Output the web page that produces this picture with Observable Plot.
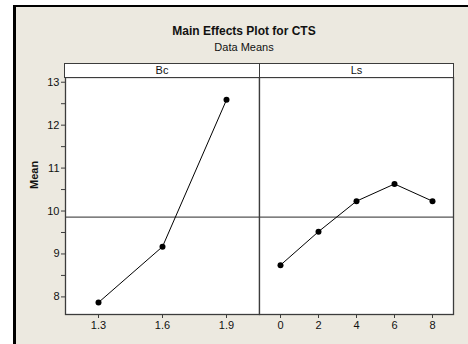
<!DOCTYPE html>
<html><head><meta charset="utf-8">
<script src="https://cdn.jsdelivr.net/npm/d3@7"></script>
<script src="https://cdn.jsdelivr.net/npm/@observablehq/plot@0.6"></script>
<style>
body{margin:0;background:#fff;}
#wrap{position:relative;width:468px;height:344px;overflow:hidden;font-family:Tahoma,"Liberation Sans",Arial,sans-serif;color:#111;}
#frame{position:absolute;left:13px;top:5px;width:480px;height:360px;border-left:3px solid #000;border-top:2px solid #000;background:#ECE9E0;}
.t{position:absolute;left:0;width:488px;text-align:center;white-space:nowrap;}
#title{top:24px;font-weight:bold;font-size:12px;}
#sub{top:41px;font-size:11px;}
.strip{position:absolute;top:63px;height:15px;box-sizing:border-box;border:1.3px solid #3c3c3c;background:#fff;font-size:11px;text-align:center;line-height:12px;}
.p{position:absolute;top:60px;}
svg{overflow:visible;}
</style></head>
<body>
<div id="wrap">
  <div id="frame"></div>
  <div id="title" class="t">Main Effects Plot for CTS</div>
  <div id="sub" class="t">Data Means</div>
  <div id="plotL" class="p" style="left:0px"></div>
  <div id="plotR" class="p" style="left:259px"></div>
  <div class="strip" id="stripL" style="left:64px;width:196px"></div>
  <div class="strip" id="stripR" style="left:259px;width:195px"></div>
</div>
<script>
const factors = ["Bc", "Ls"];
const bcLevels = ["1.3", "1.6", "1.9"];
const bcMeans = [7.87, 9.17, 12.59];
const lsLevels = ["0", "2", "4", "6", "8"];
const lsMeans = [8.74, 9.52, 10.23, 10.63, 10.23];
const grandMean = 9.86;
const yDomain = [7.59, 13.11];
const yMajorTicks = [8, 9, 10, 11, 12, 13];
const yMinorTicks = [8.5, 9.5, 10.5, 11.5, 12.5];
const yLabel = "Mean";

document.getElementById("stripL").textContent = factors[0];
document.getElementById("stripR").textContent = factors[1];

const font = 'Tahoma,"Liberation Sans",Arial,sans-serif';
const lineCol = "#3c3c3c";

function panel(levels, means, opts) {
  const data = levels.map((l, i) => ({level: l, mean: means[i]}));
  const marks = [
    Plot.frame({fill: "white"}),
    Plot.ruleY([grandMean], {stroke: "#555", strokeWidth: 1.2}),
    Plot.line(data, {x: "level", y: "mean", stroke: "#000", strokeWidth: 1}),
    Plot.dot(data, {x: "level", y: "mean", r: 3, fill: "#000"}),
    Plot.axisX({tickSize: 4, tickPadding: 3, label: null, stroke: lineCol, fontSize: 11}),
  ];
  if (opts.yAxis) {
    marks.push(
      Plot.axisY({ticks: yMajorTicks, tickFormat: d3.format("d"), tickSize: 4, tickPadding: 2, label: null, stroke: lineCol, fontSize: 11}),
      Plot.axisY({ticks: yMinorTicks, tickSize: 4, tickFormat: () => "", label: null, stroke: lineCol}),
      Plot.text([yLabel], {frameAnchor: "left", rotate: -90, dx: -31, dy: -7, fontWeight: "bold", fontSize: 11, fill: "#111"})
    );
  }
  marks.push(Plot.frame({stroke: lineCol, strokeWidth: 1.3}));
  return Plot.plot({
    width: opts.width, height: 284,
    marginLeft: opts.ml, marginRight: opts.mr, marginTop: 17, marginBottom: 30,
    style: {background: "transparent", fontFamily: font, fontSize: "11px", color: "#111"},
    x: {type: "point", domain: levels, padding: 0.5, label: null},
    y: {domain: yDomain, label: null, axis: opts.yAxis ? undefined : null},
    marks
  });
}

document.getElementById("plotL").appendChild(panel(bcLevels, bcMeans, {width: 259, ml: 65, mr: 0, yAxis: true}));
document.getElementById("plotR").appendChild(panel(lsLevels, lsMeans, {width: 209, ml: 0, mr: 15, yAxis: false}));
</script>
</body></html>
